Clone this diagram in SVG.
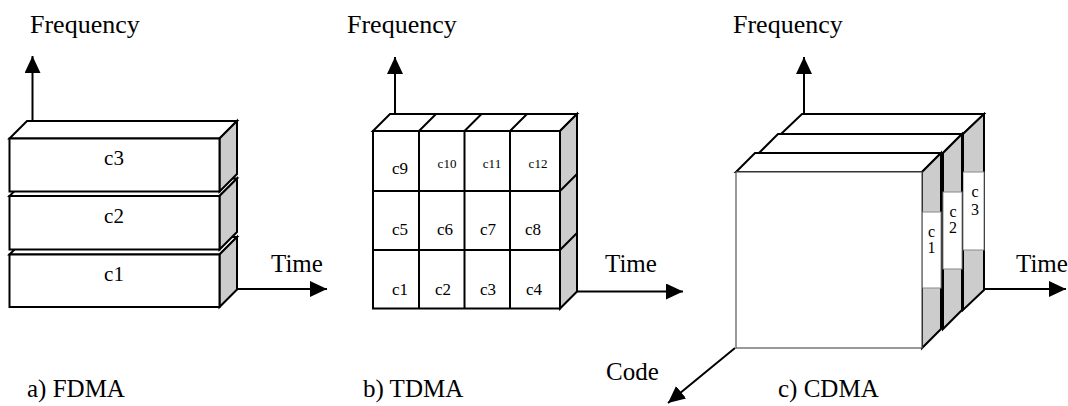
<svg xmlns="http://www.w3.org/2000/svg" width="1068" height="406" viewBox="0 0 1068 406">
  <style>
    .lbl { font-family: "Liberation Serif", "Times New Roman", serif; font-size: 25px; fill: #000; }
    .freq { font-size: 26px; }
    .cell { font-family: "Liberation Serif", "Times New Roman", serif; font-size: 21px; fill: #000; text-anchor: middle; }
    .cm { font-size: 17px; }
    .cs { font-size: 16px; }
    .cxs { font-size: 13px; }
    .face { fill: #fff; stroke: #000; stroke-width: 2; stroke-linejoin: miter; }
    .side { fill: #cccccc; stroke: #000; stroke-width: 2; stroke-linejoin: miter; }
    .thin { fill: #fff; stroke: #555; stroke-width: 1.2; }
    .slot { fill: #fff; stroke: #888; stroke-width: 1; }
    .edge { fill: none; stroke: #000; stroke-width: 2; }
    .axis { fill: none; stroke: #000; stroke-width: 2; marker-end: url(#arrow); }
  </style>
  <defs>
    <marker id="arrow" markerUnits="userSpaceOnUse" markerWidth="18" markerHeight="16" refX="17" refY="8" orient="auto">
      <path d="M0,0 L17,8 L0,16 Z" fill="#000"/>
    </marker>
  </defs>

  <rect width="1068" height="406" fill="#fff"/>

  <!-- a) FDMA: three stacked frequency bands -->
  <g id="fdma-c1">
    <path class="face" d="M9.5,254.5 L27,237 L237,237 L219.5,254.5 Z"/>
    <path class="side" d="M219.5,254.5 L237,237 L237,289.5 L219.5,307 Z"/>
    <rect class="face" x="9.5" y="254.5" width="210" height="52.5"/>
    <text class="cell" x="114" y="281">c1</text>
  </g>
  <g id="fdma-c2">
    <path class="face" d="M9.5,196 L27,178.5 L237,178.5 L219.5,196 Z"/>
    <path class="side" d="M219.5,196 L237,178.5 L237,232 L219.5,249.5 Z"/>
    <rect class="face" x="9.5" y="196" width="210" height="53.5"/>
    <text class="cell" x="114" y="223">c2</text>
  </g>
  <g id="fdma-c3">
    <path class="face" d="M9.5,138.5 L27,121 L237,121 L219.5,138.5 Z"/>
    <path class="side" d="M219.5,138.5 L237,121 L237,174 L219.5,191.5 Z"/>
    <rect class="face" x="9.5" y="138.5" width="210" height="53"/>
    <text class="cell" x="114" y="165">c3</text>
  </g>

  <!-- b) TDMA: 4 x 3 grid of time/frequency slots -->
  <g id="tdma-grid">
    <path class="face" d="M373,131 L390,114 L577,114 L560,131 Z"/>
    <path class="edge" d="M419,131 L436,114 M464.5,131 L481.5,114 M510,131 L527,114"/>
    <path class="side" d="M560,131 L577,114 L577,291.5 L560,308.5 Z"/>
    <path class="edge" d="M560,191 L577,174 M560,250 L577,233"/>
    <rect class="face" x="373" y="131" width="187" height="177.5"/>
    <path class="edge" d="M419,131 V308.5 M464.5,131 V308.5 M510,131 V308.5 M373,191 H560 M373,250 H560"/>
  </g>
  <g id="tdma-labels">
    <text class="cell cm" x="400" y="174">c9</text>
    <text class="cell cxs" x="447" y="168">c10</text>
    <text class="cell cxs" x="492" y="168">c11</text>
    <text class="cell cxs" x="538" y="168">c12</text>
    <text class="cell cm" x="400" y="235">c5</text>
    <text class="cell cm" x="445" y="235">c6</text>
    <text class="cell cm" x="488" y="235">c7</text>
    <text class="cell cm" x="533" y="235">c8</text>
    <text class="cell cm" x="400" y="295">c1</text>
    <text class="cell cm" x="443" y="295">c2</text>
    <text class="cell cm" x="488" y="295">c3</text>
    <text class="cell cm" x="534" y="295">c4</text>
  </g>

  <!-- c) CDMA: three code layers, back to front -->
  <g id="cdma-c3">
    <path class="face" d="M781,134 L802,114 L984,114 L963,134 Z"/>
    <path class="side" d="M963,134 L984,114 L984,290 L963,310 Z"/>
    <rect class="slot" x="963" y="172" width="21" height="78"/>
    <text class="cell cs" x="975" y="197">c</text>
    <text class="cell cs" x="975" y="215">3</text>
  </g>
  <g id="cdma-c2">
    <path class="face" d="M759,153 L778,134 L962,134 L943,153 Z"/>
    <path class="side" d="M943,153 L962,134 L962,310 L943,329 Z"/>
    <rect class="slot" x="943" y="192" width="19" height="77"/>
    <text class="cell cs" x="953" y="217">c</text>
    <text class="cell cs" x="953" y="233">2</text>
  </g>
  <g id="cdma-c1">
    <path class="face" d="M736,172 L755,153 L941,153 L922,172 Z"/>
    <path class="side" d="M922,172 L941,153 L941,329 L922,348 Z"/>
    <rect class="slot" x="922" y="212" width="19" height="76"/>
    <text class="cell cs" x="931.5" y="237">c</text>
    <text class="cell cs" x="931.5" y="253">1</text>
    <rect class="thin" x="736" y="172" width="186" height="176"/>
  </g>

  <!-- axes -->
  <g id="connectors">
    <line class="axis" x1="32.5" y1="121" x2="32.5" y2="56"/>
    <line class="axis" x1="237" y1="289" x2="327" y2="289"/>
    <line class="axis" x1="395" y1="114" x2="395" y2="57"/>
    <line class="axis" x1="577" y1="291.5" x2="683" y2="291.5"/>
    <line class="axis" x1="804" y1="114" x2="804" y2="57"/>
    <line class="axis" x1="984" y1="289" x2="1066" y2="289"/>
    <line class="axis" x1="735" y1="348" x2="668" y2="403"/>
  </g>

  <!-- axis and panel captions -->
  <g id="captions">
    <text class="lbl freq" x="30" y="33">Frequency</text>
    <text class="lbl freq" x="347" y="33">Frequency</text>
    <text class="lbl freq" x="733" y="33">Frequency</text>
    <text class="lbl" x="271" y="272">Time</text>
    <text class="lbl" x="605" y="272">Time</text>
    <text class="lbl" x="1016" y="272">Time</text>
    <text class="lbl" x="606" y="380">Code</text>
    <text class="lbl" x="27" y="397">a) FDMA</text>
    <text class="lbl" x="363" y="397">b) TDMA</text>
    <text class="lbl" x="778" y="397">c) CDMA</text>
  </g>
</svg>
